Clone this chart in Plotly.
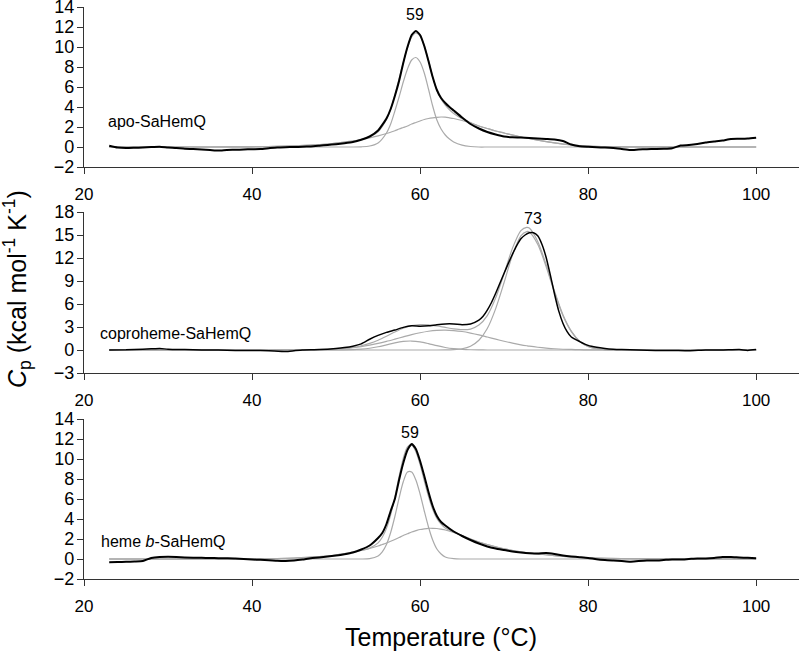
import plotly.graph_objects as go

# ---------------- data ----------------
# Panel 1: apo-SaHemQ
t_black1 = [23, 24, 25, 26, 27, 28, 29, 30, 31, 32, 33, 34, 35, 36, 37, 38, 39, 40, 41, 42,
            43, 44, 45, 46, 47, 48, 49, 50, 51, 52, 53, 54, 55, 56,
            56.5, 57, 57.5, 58, 58.5, 59, 59.5, 60, 60.5, 61, 61.5, 62, 62.5, 63, 63.5, 64,
            65, 66, 67, 68, 69, 70, 71, 72, 73, 74, 75, 76, 77, 78, 79, 80, 81, 82, 83, 84,
            85, 86, 87, 88, 89, 90, 91, 92, 93, 94, 95, 96, 97, 98, 99, 100]
cp_black1 = [0.13, -0.05, -0.1, -0.08, -0.05, 0.0, 0.03, -0.05, -0.1, -0.18, -0.2, -0.25, -0.3, -0.35, -0.3, -0.28, -0.25, -0.22, -0.2, -0.12,
             -0.05, -0.02, 0.0, 0.02, 0.06, 0.13, 0.2, 0.28, 0.38, 0.5, 0.72, 1.05, 1.65, 2.85,
             3.8, 5.1, 6.6, 8.4, 10.0, 11.2, 11.6, 11.2, 10.1, 8.6, 7.0, 5.7, 4.9, 4.4, 4.0, 3.65,
             2.95, 2.3, 1.85, 1.5, 1.25, 1.05, 0.97, 0.95, 0.9, 0.85, 0.8, 0.75, 0.6, 0.25, 0.08, 0.02, -0.03, -0.05, -0.1, -0.2,
             -0.3, -0.25, -0.22, -0.2, -0.18, -0.12, 0.15, 0.2, 0.3, 0.45, 0.55, 0.65, 0.8, 0.82, 0.85, 0.93]
t_fit1 = [23, 30, 35, 40, 44, 47, 49, 51, 52, 53, 54, 55, 56, 56.5, 57, 57.5, 58, 58.5, 59, 59.5,
          60, 60.5, 61, 61.5, 62, 62.5, 63, 63.5, 64, 65, 66, 67, 68, 69, 70, 72, 74, 76, 78, 80,
          84, 90, 100]
cp_sharp1 = [0, 0, 0, 0, 0, 0, 0, 0, 0, 0.02, 0.1, 0.4, 1.4, 2.3, 3.6, 5.0, 6.5, 7.8, 8.7, 8.95,
             8.5, 7.4, 5.8, 4.1, 2.7, 1.8, 1.2, 0.8, 0.5, 0.18, 0.05, 0, 0, 0, 0, 0, 0, 0, 0, 0,
             0, 0, 0]
cp_broad1 = [0, 0, 0, 0.02, 0.08, 0.18, 0.3, 0.5, 0.6, 0.75, 0.92, 1.12, 1.35, 1.48, 1.62, 1.8, 1.95, 2.1, 2.3, 2.45,
             2.6, 2.75, 2.85, 2.92, 2.97, 3.0, 2.98, 2.92, 2.85, 2.65, 2.4, 2.1, 1.85, 1.6, 1.4, 1.0, 0.68, 0.42, 0.22, 0.1,
             0.02, 0, 0]
cp_fit1 = [0, 0, 0, 0.02, 0.08, 0.18, 0.3, 0.5, 0.6, 0.77, 1.02, 1.52, 2.75, 3.78, 5.22, 6.8, 8.45, 9.9, 11.0, 11.4,
           11.1, 10.15, 8.65, 7.02, 5.67, 4.8, 4.18, 3.72, 3.35, 2.83, 2.45, 2.1, 1.85, 1.6, 1.4, 1.0, 0.68, 0.42, 0.22, 0.1,
           0.02, 0, 0]

# Panel 2: coproheme-SaHemQ
t_black2 = [23, 25, 27, 28, 29, 30, 32, 34, 36, 38, 40, 42, 44, 45, 46, 48, 50, 51, 52, 53,
            54, 55, 56, 57, 58, 59, 60, 61, 62, 63, 64, 65, 66, 67, 67.5, 68, 68.5, 69, 69.5, 70,
            70.5, 71, 71.5, 72, 72.5, 73, 73.5, 74, 74.5, 75, 75.5, 76, 76.5, 77, 77.5, 78, 79, 80, 81, 82,
            83, 84, 86, 88, 90, 92, 94, 96, 98, 99, 100]
cp_black2 = [0, 0.02, 0.1, 0.15, 0.2, 0.1, 0.05, 0.0, 0.0, -0.05, -0.05, -0.1, -0.2, -0.1, 0.0, 0.05, 0.2, 0.32, 0.5, 0.8,
             1.4, 1.9, 2.3, 2.6, 2.95, 3.15, 3.1, 3.15, 3.3, 3.4, 3.4, 3.3, 3.4, 3.9, 4.4, 5.2, 6.2, 7.4, 8.7, 10.0,
             11.3, 12.5, 13.6, 14.5, 15.0, 15.3, 15.3, 14.9, 13.8, 12.1, 9.8, 7.3, 5.1, 3.5, 2.4, 1.7, 1.1, 0.6, 0.35, 0.2,
             0.1, 0.05, 0.0, -0.05, -0.05, -0.1, 0.0, 0.0, 0.05, -0.05, 0.05]
t_fit2 = [23, 30, 40, 45, 48, 50, 52, 53, 54, 55, 56, 57, 58, 59, 60, 61, 62, 63, 64, 65,
          66, 67, 68, 69, 70, 71, 72, 72.7, 73, 74, 75, 76, 77, 78, 79, 80, 81, 82, 84, 86,
          90, 100]
cp_small2 = [0, 0, 0, 0, 0, 0.01, 0.04, 0.11, 0.23, 0.42, 0.67, 0.93, 1.12, 1.17, 1.06, 0.83, 0.56, 0.33, 0.17, 0.08,
             0.03, 0.01, 0, 0, 0, 0, 0, 0, 0, 0, 0, 0, 0, 0, 0, 0, 0, 0, 0, 0,
             0, 0]
cp_mid2 = [0, 0, 0, 0.01, 0.05, 0.13, 0.31, 0.45, 0.64, 0.86, 1.12, 1.41, 1.71, 2.0, 2.25, 2.45, 2.57, 2.6, 2.54, 2.41,
           2.21, 1.97, 1.69, 1.41, 1.14, 0.89, 0.68, 0.55, 0.5, 0.36, 0.25, 0.16, 0.1, 0.07, 0.04, 0.02, 0.01, 0, 0, 0,
           0, 0]
cp_big2 = [0, 0, 0, 0, 0, 0, 0, 0, 0, 0, 0, 0, 0, 0, 0, 0, 0, 0.01, 0.05, 0.16,
           0.49, 1.27, 2.8, 5.4, 8.8, 12.4, 14.9, 15.45, 15.4, 13.8, 10.9, 7.5, 4.5, 2.4, 1.1, 0.45, 0.16, 0.05, 0, 0,
           0, 0]
cp_fit2 = [0, 0, 0, 0.01, 0.05, 0.14, 0.35, 0.56, 0.87, 1.28, 1.79, 2.34, 2.83, 3.17, 3.31, 3.28, 3.13, 2.94, 2.76, 2.65,
           2.73, 3.25, 4.49, 6.81, 9.94, 13.29, 15.58, 16.0, 15.9, 14.16, 11.15, 7.66, 4.6, 2.47, 1.14, 0.47, 0.17, 0.05, 0, 0,
           0, 0]

# Panel 3: heme b-SaHemQ
t_black3 = [23, 24, 25, 26, 27, 28, 29, 30, 31, 32, 33, 34, 35, 36, 37, 38, 39, 40, 41, 42,
            43, 44, 45, 46, 47, 48, 49, 50, 51, 52, 53, 54, 55,
            55.5, 56, 56.5, 57, 57.5, 58, 58.5, 59, 59.5, 60, 60.5, 61, 61.5, 62, 62.5, 63,
            64, 65, 66, 67, 68, 69, 70, 71, 72, 73, 74, 75, 76, 77, 78, 79, 80, 81, 82, 83,
            84, 85, 86, 87, 88, 89, 90, 91, 92, 93, 94, 95, 96, 97, 98, 99, 100]
cp_black3 = [-0.33, -0.3, -0.28, -0.25, -0.2, 0.1, 0.2, 0.22, 0.2, 0.15, 0.13, 0.12, 0.1, 0.08, 0.07, 0.05, 0.0, -0.05, -0.08, -0.12,
             -0.18, -0.2, -0.15, -0.05, 0.08, 0.15, 0.25, 0.35, 0.48, 0.65, 0.95, 1.35, 2.1,
             2.6, 3.5, 4.8, 6.0, 7.9, 9.6, 10.9, 11.5, 11.0, 9.8, 8.3, 6.7, 5.3, 4.3, 3.7, 3.35,
             2.75, 2.3, 1.9, 1.55, 1.25, 1.05, 0.9, 0.75, 0.65, 0.58, 0.55, 0.6, 0.5, 0.35, 0.25, 0.18, 0.1, -0.02, -0.1, -0.15,
             -0.2, -0.27, -0.2, -0.15, -0.15, -0.1, -0.05, -0.05, 0.0, 0.05, 0.05, 0.1, 0.2, 0.2, 0.15, 0.12, 0.08]
t_fit3 = [23, 30, 40, 45, 48, 50, 52, 53, 54, 55,
          55.5, 56, 56.5, 57, 57.5, 58, 58.5, 59, 59.5, 60, 60.5, 61, 61.5, 62, 62.5, 63,
          64, 65, 66, 67, 68, 69, 70, 72, 74, 76, 78, 80, 84, 90, 100]
cp_sharp3 = [0, 0, 0, 0, 0, 0, 0, 0, 0.04, 0.31,
             0.72, 1.46, 2.65, 4.25, 6.09, 7.72, 8.7, 8.7, 7.9, 6.5, 4.8, 3.2, 1.9, 1.0, 0.5, 0.2,
             0.03, 0, 0, 0, 0, 0, 0, 0, 0, 0, 0, 0, 0, 0, 0]
cp_broad3 = [0, 0, 0.02, 0.1, 0.23, 0.4, 0.68, 0.85, 1.05, 1.3,
             1.45, 1.6, 1.77, 1.95, 2.15, 2.35, 2.52, 2.7, 2.83, 2.95, 3.02, 3.07, 3.07, 3.05, 2.98, 2.9,
             2.65, 2.35, 2.0, 1.7, 1.45, 1.22, 1.02, 0.72, 0.5, 0.33, 0.2, 0.12, 0.04, 0.01, 0]
cp_fit3 = [0, 0, 0.02, 0.1, 0.23, 0.4, 0.68, 0.85, 1.09, 1.61,
           2.17, 3.06, 4.42, 6.2, 8.24, 10.07, 11.22, 11.4, 10.73, 9.45, 7.82, 6.27, 4.97, 4.05, 3.48, 3.1,
           2.68, 2.35, 2.0, 1.7, 1.45, 1.22, 1.02, 0.72, 0.5, 0.33, 0.2, 0.12, 0.04, 0.01, 0]

x_ticks = [20, 40, 60, 80, 100]
panel_labels = ["apo-SaHemQ", "coproheme-SaHemQ", "heme <i>b</i>-SaHemQ"]
peak_labels = ["59", "73", "59"]
peak_pos = [(59.4, 13.2), (73.4, 17.1), (58.8, 12.7)]
label_pos = [(22.6, 2.5), (21.7, 2.2), (21.8, 1.8)]
y_ranges = [[-2, 14], [-3, 18], [-2, 14]]
y_dticks = [2, 3, 2]

# ---------------- figure ----------------
FONT = "Liberation Sans, Arial, sans-serif"
GRAY = "#aaaaaa"
AX = "#333333"

fig = go.Figure()

panels = [
    (t_black1, cp_black1, t_fit1, [cp_sharp1, cp_broad1, cp_fit1], 2.0),
    (t_black2, cp_black2, t_fit2, [cp_small2, cp_mid2, cp_big2, cp_fit2], 1.5),
    (t_black3, cp_black3, t_fit3, [cp_sharp3, cp_broad3, cp_fit3], 2.0),
]

for i, (tb, vb, tf, fits, bw) in enumerate(panels):
    xa = "x" if i == 0 else f"x{i+1}"
    ya = "y" if i == 0 else f"y{i+1}"
    for comp in fits:
        fig.add_trace(go.Scatter(x=tf, y=comp, mode="lines", xaxis=xa, yaxis=ya,
                                 line=dict(color=GRAY, width=1.2, shape="spline", smoothing=0.8),
                                 showlegend=False, hoverinfo="skip"))
    fig.add_trace(go.Scatter(x=tb, y=vb, mode="lines", xaxis=xa, yaxis=ya,
                             line=dict(color="black", width=bw, shape="spline", smoothing=0.5),
                             showlegend=False))

H = 659.0
x_dom = [84 / 800, 799 / 800]
y_doms = [[1 - 167 / H, 1 - 7 / H], [1 - 373 / H, 1 - 212 / H], [1 - 579 / H, 1 - 419 / H]]

layout = dict(
    width=800, height=659,
    margin=dict(l=0, r=0, t=0, b=0),
    paper_bgcolor="white", plot_bgcolor="white",
    font=dict(family=FONT, color="black", size=17),
    showlegend=False,
)
annotations = []
for i in range(3):
    xk = "xaxis" if i == 0 else f"xaxis{i+1}"
    yk = "yaxis" if i == 0 else f"yaxis{i+1}"
    xa = "x" if i == 0 else f"x{i+1}"
    ya = "y" if i == 0 else f"y{i+1}"
    layout[xk] = dict(domain=x_dom, anchor=ya, range=[20, 105.1], tickvals=x_ticks,
                      ticks="outside", ticklen=6, tickwidth=1.2, tickcolor=AX,
                      showline=True, linecolor=AX, linewidth=1.3, showgrid=False,
                      zeroline=False, automargin=False, ticklabelstandoff=5,
                      ticklabeloverflow="allow",
                      tickfont=dict(size=17, family=FONT))
    layout[yk] = dict(domain=y_doms[i], anchor=xa, range=y_ranges[i], dtick=y_dticks[i],
                      tick0=0, ticks="outside", ticklen=6, tickwidth=1.2, tickcolor=AX,
                      showline=True, linecolor=AX, linewidth=1.3, showgrid=False,
                      zeroline=False, automargin=False, ticklabelstandoff=-1,
                      ticklabeloverflow="allow",
                      tickfont=dict(size=18, family=FONT))
    annotations.append(dict(x=peak_pos[i][0], y=peak_pos[i][1], xref=xa, yref=ya,
                            text=peak_labels[i], showarrow=False,
                            font=dict(size=16, family=FONT), xanchor="center", yanchor="middle"))
    annotations.append(dict(x=label_pos[i][0], y=label_pos[i][1], xref=xa, yref=ya,
                            text=panel_labels[i], showarrow=False,
                            font=dict(size=16, family=FONT), xanchor="left", yanchor="middle"))

annotations.append(dict(x=441 / 800, y=1 - 637 / H, xref="paper", yref="paper",
                        text="Temperature (°C)", showarrow=False,
                        font=dict(size=25, family=FONT), xanchor="center", yanchor="middle"))
annotations.append(dict(x=17 / 800, y=1 - 289 / H, xref="paper", yref="paper",
                        text="<i>C</i><sub>p</sub> (kcal mol<sup>-1</sup> K<sup>-1</sup>)",
                        textangle=-90, showarrow=False,
                        font=dict(size=25, family=FONT), xanchor="center", yanchor="middle"))
layout["annotations"] = annotations
fig.update_layout(**layout)

fig.write_html("out.html", config={"displayModeBar": False},
               post_script="document.body.style.margin='0';document.body.style.padding='0';")
